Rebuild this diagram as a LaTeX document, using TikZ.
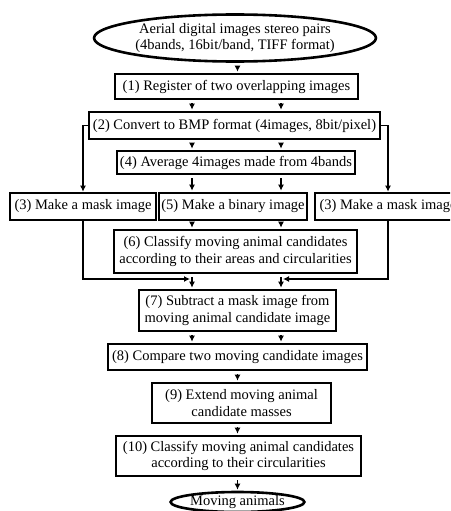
\documentclass[tikz,border=0pt]{standalone}
\usepackage{fontspec}
\setmainfont{Liberation Serif}
\usetikzlibrary{shapes.geometric,arrows.meta}
\begin{document}
\begin{tikzpicture}[x=1pt,y=-1pt,
  box/.style={draw,line width=2.6pt,inner sep=0pt,align=center,font=\fontsize{14.5}{16.5}\selectfont},
  oval/.style={draw,ellipse,line width=2.6pt,inner sep=0pt,align=center,font=\fontsize{14.5}{16.5}\selectfont},
  arr/.style={line width=1.7pt,-{Latex[length=6pt,width=6pt]}},
  sh/.style={shorten <=3pt,shorten >=1pt}]
\useasboundingbox (0,0) rectangle (450,511);
\clip (0,0) rectangle (450,511);
\coordinate (xl) at (192,0);
\coordinate (xr) at (281,0);
\coordinate (mL) at (190,279);
\coordinate (mR) at (283,279);
\node[oval,minimum width=274pt,minimum height=47pt] (e1) at (235,38) {Aerial digital images stereo pairs\\(4bands, 16bit/band, TIFF format)};
\node[box,minimum width=243pt,minimum height=25pt] (b1) at (236.5,86.5) {(1) Register of two overlapping images};
\node[box,minimum width=291pt,minimum height=27pt] (b2) at (234.5,125.5) {(2) Convert to BMP format (4images, 8bit/pixel)};
\node[box,minimum width=238pt,minimum height=23pt] (b4) at (236,162.5) {(4) Average 4images made from 4bands};
\node[box,minimum width=146pt,minimum height=27pt] (b3l) at (83,206.5) {(3) Make a mask image};
\node[box,minimum width=148pt,minimum height=27pt] (b5) at (233,206.5) {(5) Make a binary image};
\node[box,minimum width=146pt,minimum height=27pt] (b3r) at (388,206.5) {(3) Make a mask image};
\node[box,minimum width=243pt,minimum height=43pt] (b6) at (235.5,251.5) {(6) Classify moving animal candidates\\according to their areas and circularities};
\node[box,minimum width=197pt,minimum height=41pt] (b7) at (237.5,310.5) {(7) Subtract a mask image from\\moving animal candidate image};
\node[box,minimum width=259pt,minimum height=26pt] (b8) at (237.5,357) {(8) Compare two moving candidate images};
\node[box,minimum width=179pt,minimum height=40pt] (b9) at (241.5,403) {(9) Extend moving animal\\candidate masses};
\node[box,minimum width=245pt,minimum height=40pt] (b10) at (238.5,456) {(10) Classify moving animal candidates\\according to their circularities};
\node[oval,minimum width=129pt,minimum height=20pt] (e2) at (237.5,502) {Moving animals};
% connectors
\draw[arr,sh] (e1.south -| b8) -- (b1.north -| b8);
\foreach \a/\b in {b1/b2,b2/b4,b4/b5,b5/b6,b6/b7,b7/b8}{
  \draw[arr,sh] (\a.south -| xl) -- (\b.north -| xl);
  \draw[arr,sh] (\a.south -| xr) -- (\b.north -| xr);
}
\draw[arr,sh] (b8.south) -- (b9.north -| b8);
\draw[arr,sh] (b9.south -| b8) -- (b10.north -| b8);
\draw[arr,sh] (b10.south -| b8) -- (e2.north);
\draw[arr] (b2.west) -| (b3l.north);
\draw[arr] (b2.east) -| (b3r.north);
\draw[arr] (b3l.south) |- (mL);
\draw[arr] (b3r.south) |- (mR);
\end{tikzpicture}
\end{document}
